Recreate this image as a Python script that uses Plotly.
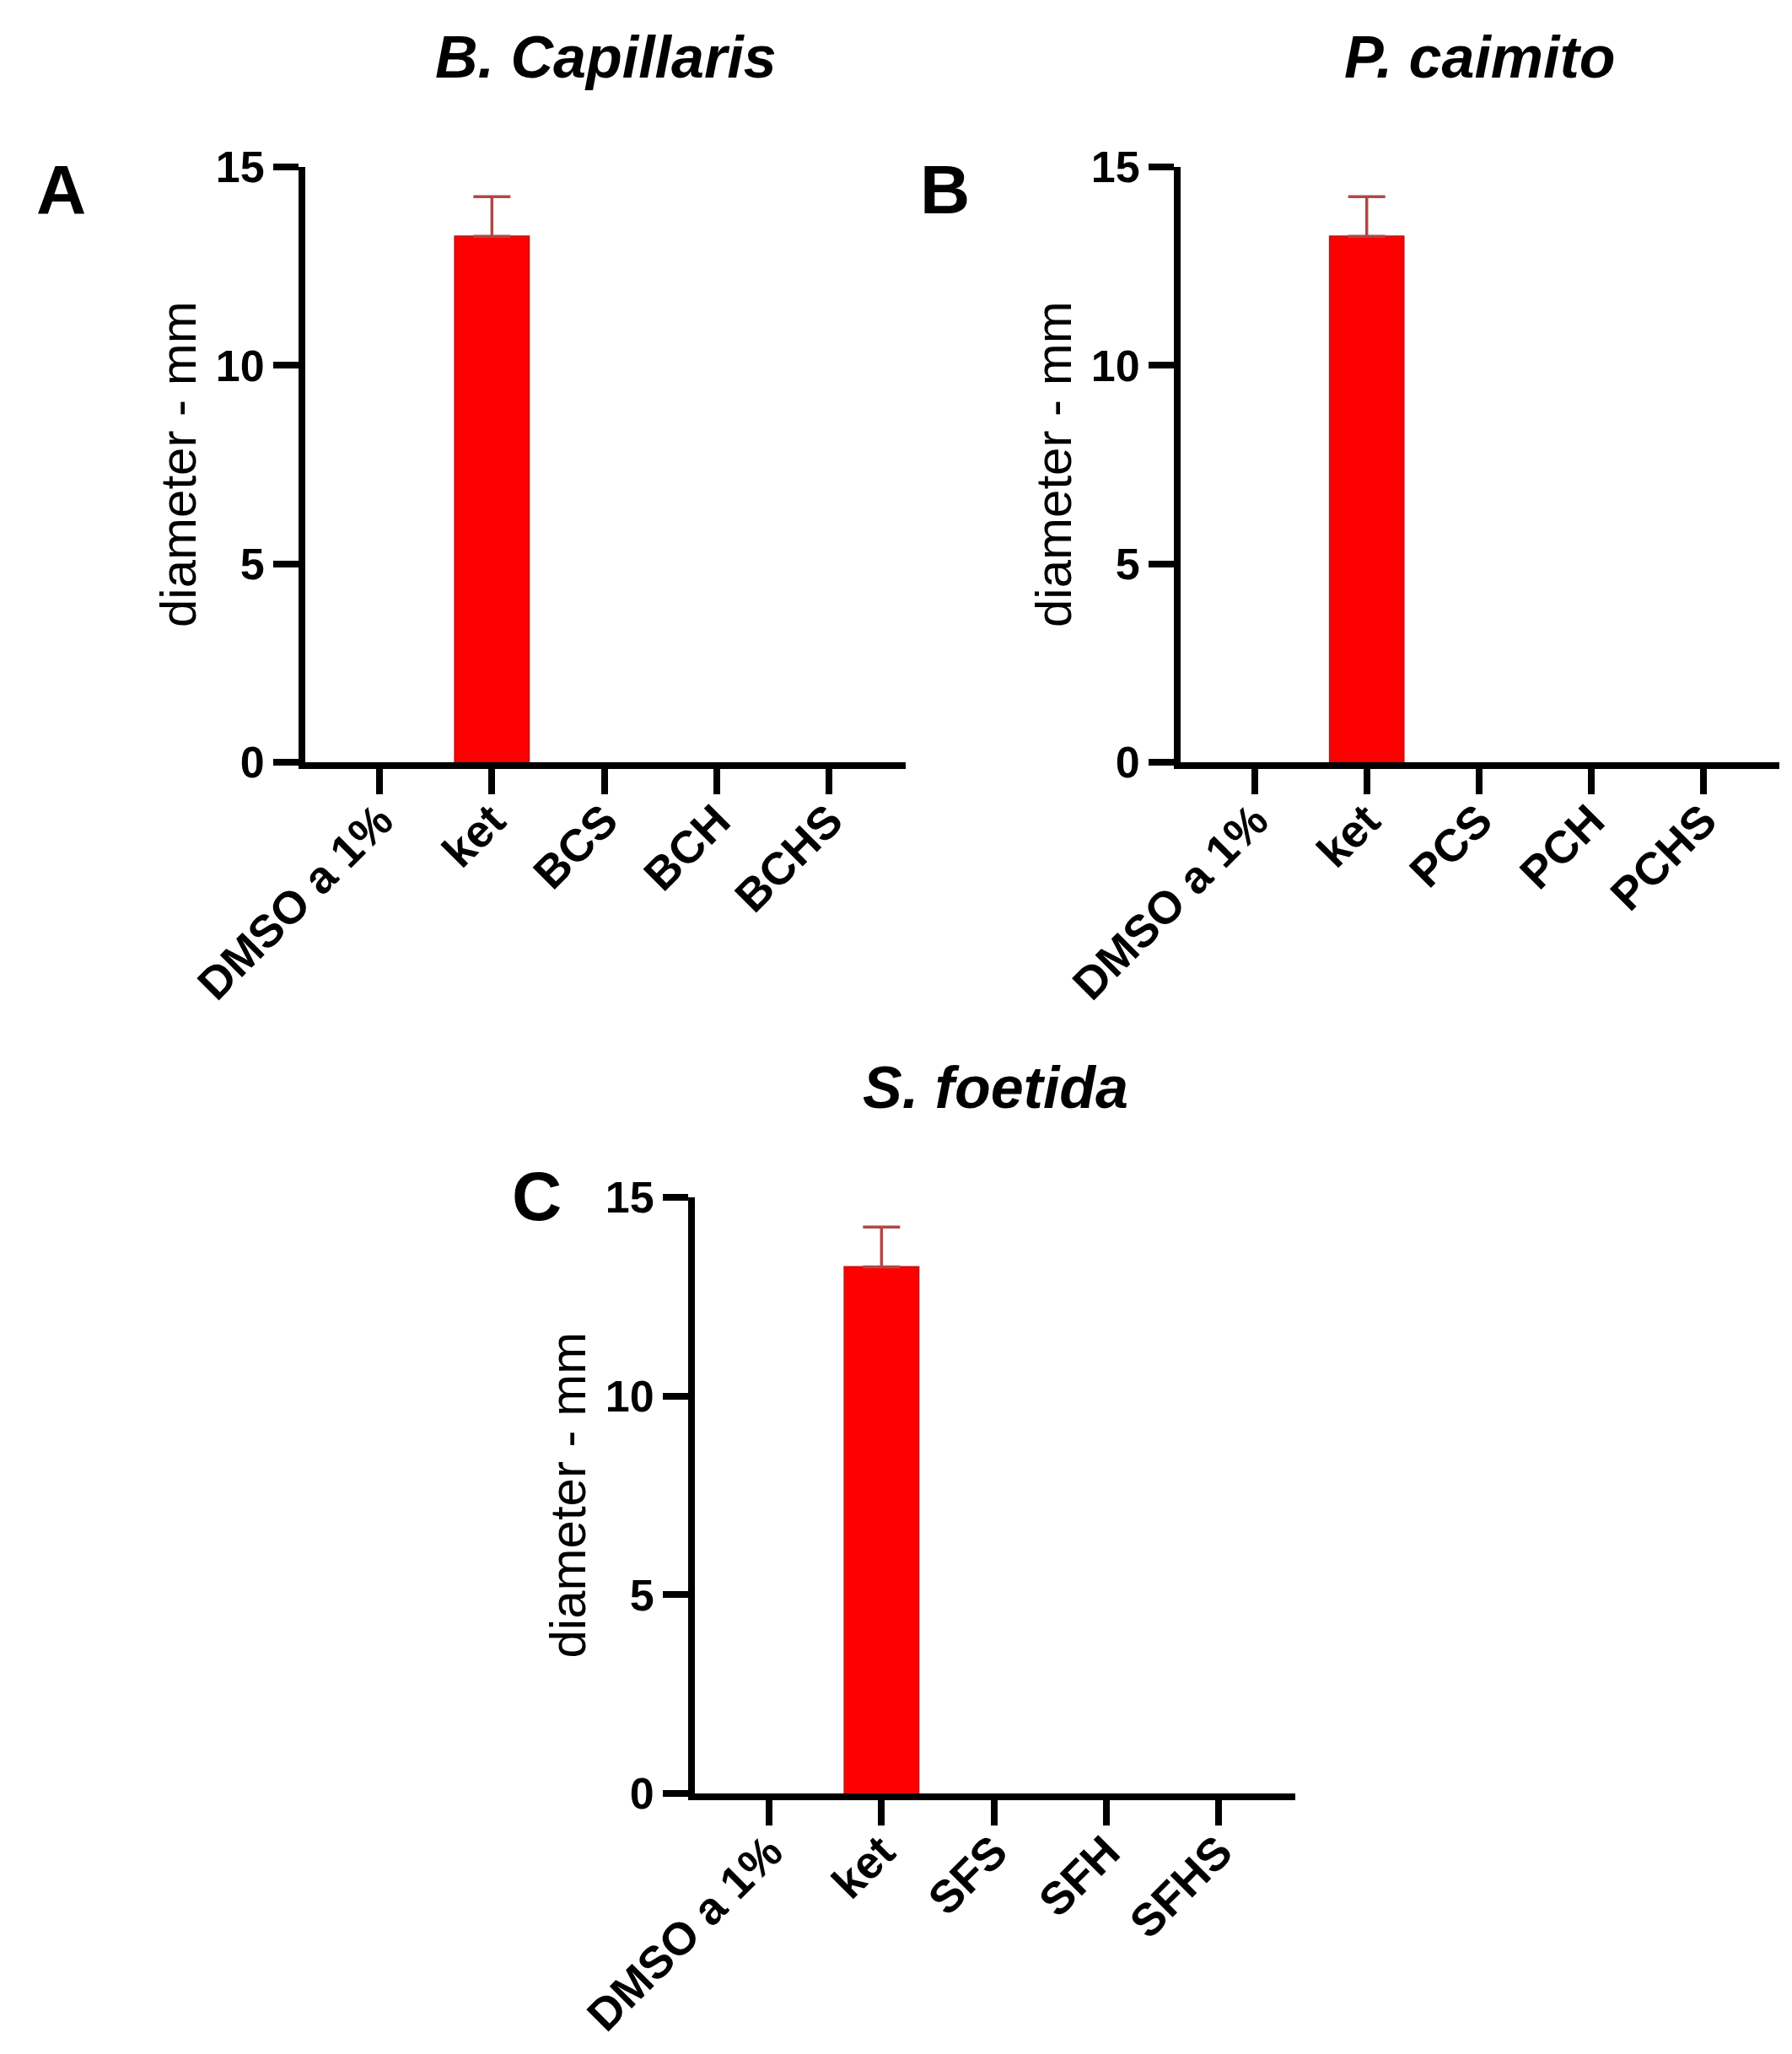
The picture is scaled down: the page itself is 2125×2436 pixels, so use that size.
import plotly.graph_objects as go

W, H = 2125, 2436
FONT = "Liberation Sans, Arial, sans-serif"

cats_a = ["DMSO a 1%", "ket", "BCS", "BCH", "BCHS"]
cats_b = ["DMSO a 1%", "ket", "PCS", "PCH", "PCHS"]
cats_c = ["DMSO a 1%", "ket", "SFS", "SFH", "SFHS"]

diam_a = [0, 13.25, 0, 0, 0]
diam_b = [0, 13.25, 0, 0, 0]
diam_c = [0, 13.25, 0, 0, 0]

# only the ket bar has a visible SD
sd_a = [None, 1.0, None, None, None]
sd_b = [None, 1.0, None, None, None]
sd_c = [None, 1.0, None, None, None]

titles = ["B. Capillaris", "P. caimito", "S. foetida"]
letters = ["A", "B", "C"]
y_ticks = [0, 5, 10, 15]


def px_x(v):
    return v / W


def px_y(v):
    return 1 - v / H


# pixel boxes of each plot area: (left, right, top, bottom)
boxes = [(354, 1066, 190, 896), (1392, 2102, 190, 896), (816, 1528, 1412, 2119)]
letter_pos = [(64, 217), (1112, 217), (628, 1410)]

fig = go.Figure()
panels = [(cats_a, diam_a, sd_a), (cats_b, diam_b, sd_b), (cats_c, diam_c, sd_c)]

for i, (cats, vals, sd) in enumerate(panels):
    n = "" if i == 0 else str(i + 1)
    fig.add_trace(go.Bar(
        x=cats, y=vals, width=0.66,
        marker=dict(color="#ff0000",
                    line=dict(color="#c81414", width=[2 if v > 0 else 0 for v in vals])),
        xaxis="x" + n, yaxis="y" + n, showlegend=False,
    ))
    # SD only drawn upwards, and only where there is one
    keep = [k for k, s in enumerate(sd) if s is not None]
    fig.add_trace(go.Scatter(
        x=[cats[k] for k in keep], y=[vals[k] for k in keep], mode="markers",
        marker=dict(size=0.1, color="rgba(0,0,0,0)"),
        error_y=dict(type="data", array=[sd[k] for k in keep], symmetric=False,
                     arrayminus=[0] * len(keep), color="#b04848", thickness=3.5, width=22),
        xaxis="x" + n, yaxis="y" + n, showlegend=False,
    ))
    l, r, t, b = boxes[i]
    axis_style = dict(showline=True, linecolor="black", linewidth=8,
                      ticks="outside", ticklen=30, tickwidth=8, tickcolor="black",
                      showgrid=False, zeroline=False, automargin=False)
    fig.layout["xaxis" + n] = dict(
        domain=[px_x(l), px_x(r)], anchor="y" + n, type="category",
        range=[-0.66, 4.68], tickangle=-45, ticklabelstandoff=-22,
        tickfont=dict(family=FONT, size=54, color="black", weight="bold"), **axis_style)
    fig.layout["yaxis" + n] = dict(
        domain=[px_y(b), px_y(t)], anchor="x" + n, range=[0, 15],
        tickvals=y_ticks,
        tickfont=dict(family=FONT, size=52, color="black", weight="bold"), **axis_style)

    # panel title
    fig.add_annotation(text="<b><i>" + titles[i] + "</i></b>", xref="paper", yref="paper",
                       x=px_x((l + r) / 2), y=px_y(t - 130), showarrow=False,
                       xanchor="center", yanchor="middle",
                       font=dict(family=FONT, size=70, color="black"))
    # panel letter
    fig.add_annotation(text="<b>" + letters[i] + "</b>", xref="paper", yref="paper",
                       x=px_x(letter_pos[i][0]), y=px_y(letter_pos[i][1]), showarrow=False,
                       xanchor="center", yanchor="middle",
                       font=dict(family=FONT, size=82, color="black"))
    # y axis title
    fig.add_annotation(text="diameter - mm", xref="paper", yref="paper",
                       x=px_x(l - 151), y=px_y((t + b) / 2), showarrow=False,
                       textangle=-90, xanchor="center", yanchor="middle",
                       font=dict(family=FONT, size=60, color="black"))

fig.update_layout(
    width=W, height=H, margin=dict(l=0, r=0, t=0, b=0, autoexpand=False),
    paper_bgcolor="white", plot_bgcolor="white",
    font=dict(family=FONT, color="black"),
)

fig.write_html("out.html")
